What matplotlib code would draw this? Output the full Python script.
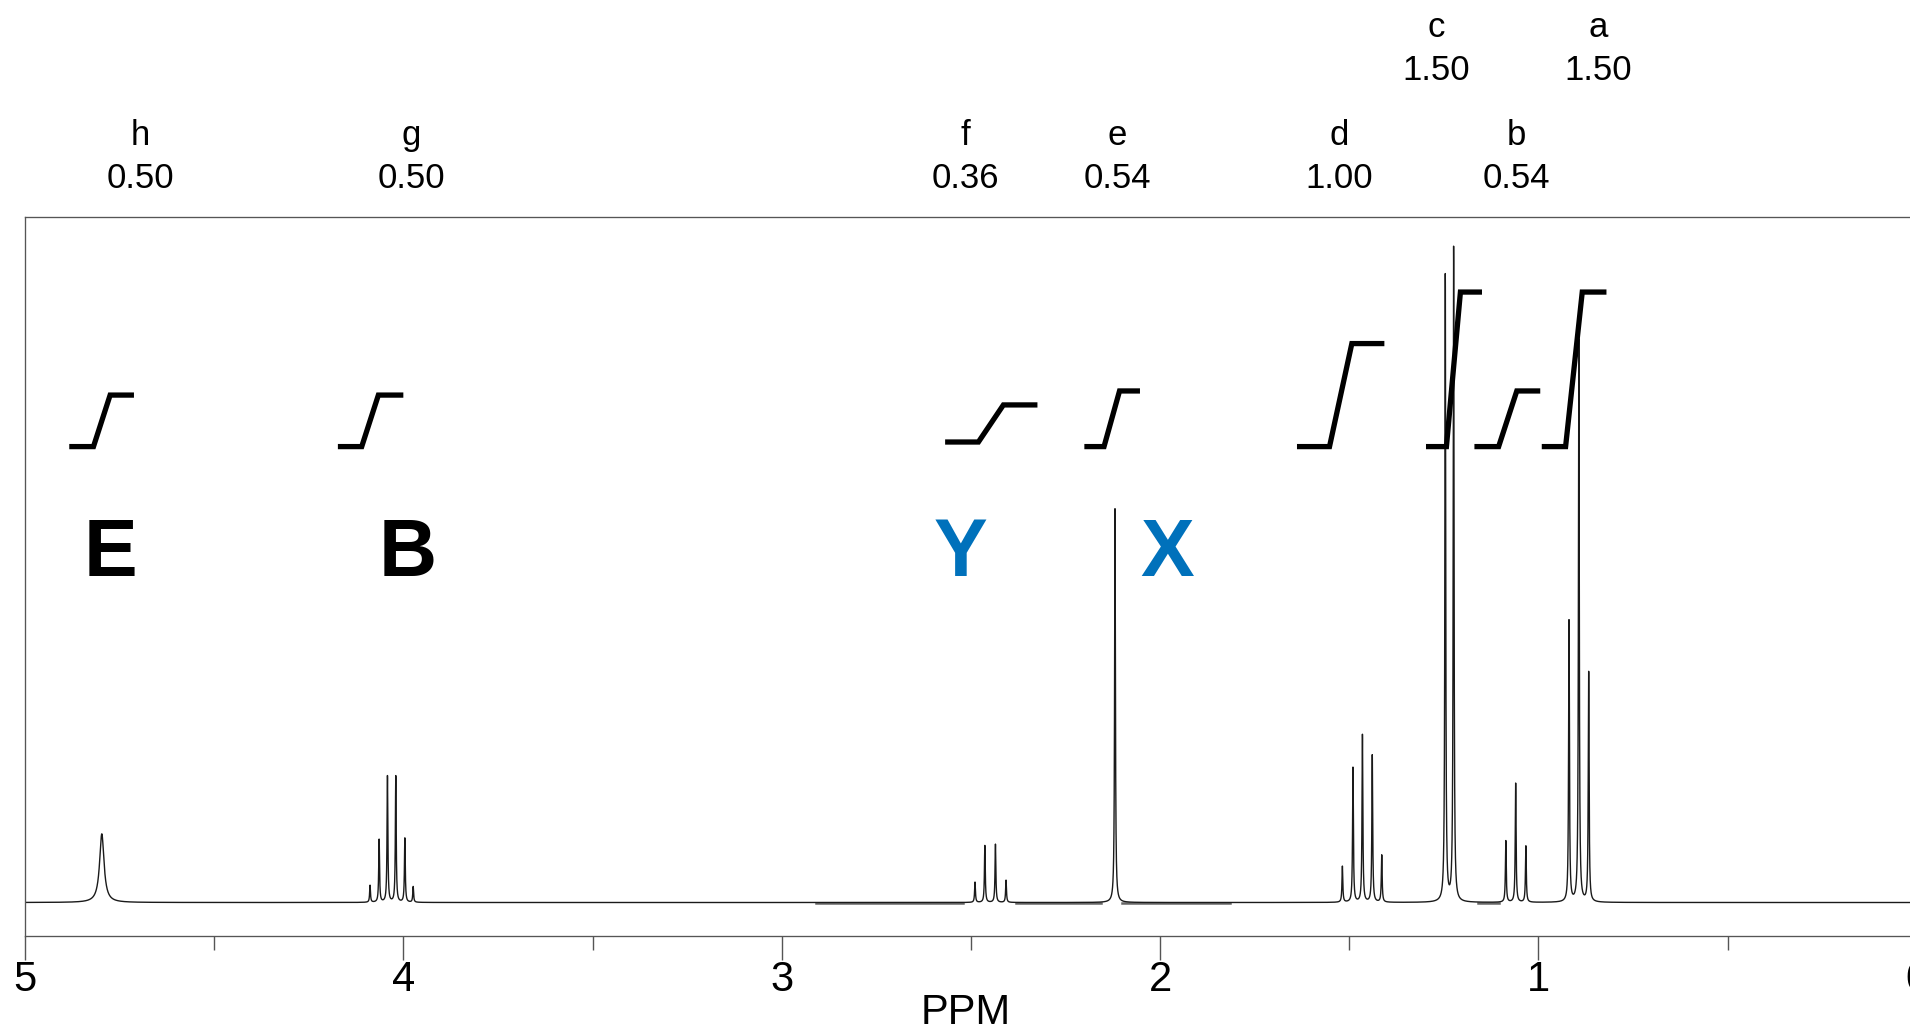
import numpy as np
import matplotlib
matplotlib.use('Agg')
import matplotlib.pyplot as plt
from matplotlib import transforms
from matplotlib.ticker import MultipleLocator

plt.rcParams['font.family'] = ['Liberation Sans', 'DejaVu Sans']

# proton groups, their integrals and where the labels sit (ppm)
groups = ['h', 'g', 'f', 'e', 'd', 'c', 'b', 'a']
integrals = [0.50, 0.50, 0.36, 0.54, 1.00, 1.50, 0.54, 1.50]
label_ppm = [4.695, 3.978, 2.514, 2.113, 1.527, 1.269, 1.057, 0.842]
label_raised = [False, False, False, False, False, True, False, True]

# integral traces: start, rise start, rise end, end (ppm) and base level
integral_ranges = [
    (4.883, 4.819, 4.775, 4.712),
    (4.173, 4.110, 4.066, 4.000),
    (2.568, 2.480, 2.414, 2.324),
    (2.200, 2.148, 2.107, 2.053),
    (1.638, 1.552, 1.493, 1.407),
    (1.297, 1.243, 1.206, 1.149),
    (1.169, 1.105, 1.057, 0.995),
    (0.991, 0.928, 0.884, 0.820),
]
integral_base = [0.697, 0.697, 0.704, 0.697, 0.697, 0.697, 0.697, 0.697]
integral_scale = 0.1575

# spectrum lines (ppm, height)
h_ppm, h_int = [4.797], [0.105]
g_ppm = [4.088, 4.064, 4.042, 4.020, 3.996, 3.974]
g_int = [0.026, 0.096, 0.193, 0.193, 0.098, 0.024]
f_ppm = [2.489, 2.463, 2.435, 2.407]
f_int = [0.031, 0.087, 0.089, 0.034]
e_ppm, e_int = [2.119], [0.602]
d_ppm = [1.518, 1.490, 1.465, 1.439, 1.414]
d_int = [0.055, 0.206, 0.256, 0.225, 0.072]
c_ppm = [1.246, 1.224]
c_int = [0.958, 1.000]
b_ppm = [1.086, 1.060, 1.033]
b_int = [0.094, 0.182, 0.086]
a_ppm = [0.919, 0.893, 0.867]
a_int = [0.430, 0.860, 0.351]

# darker baseline pieces (ppm ranges)
baseline_pieces = [(2.91, 2.52), (2.38, 2.155), (2.10, 1.815), (1.16, 1.105)]

# compound markers
marks = ['E', 'B', 'Y', 'X']
mark_ppm = [4.775, 3.988, 2.528, 1.982]
mark_color = ['black', 'black', '#0071BB', '#0071BB']


def lorentz(x, x0, h, w):
    return h * w ** 2 / ((x - x0) ** 2 + w ** 2)


ppm = np.linspace(5.0, 0.0, 50001)
spec = np.zeros_like(ppm)
for x0, h in zip(h_ppm, h_int):
    spec += lorentz(ppm, x0, h, 0.007)
for pos, hts in [(g_ppm, g_int), (f_ppm, f_int), (e_ppm, e_int), (d_ppm, d_int),
                 (c_ppm, c_int), (b_ppm, b_int), (a_ppm, a_int)]:
    for x0, h in zip(pos, hts):
        spec += lorentz(ppm, x0, h, 0.0013)

fig = plt.figure(figsize=(19.1, 10.29), dpi=100)
ax = fig.add_axes([25 / 1910, 93 / 1029, 1891.7 / 1910, 719 / 1029])

for a0, a1 in baseline_pieces:
    ax.plot([a0, a1], [-0.001, -0.001], color='#666666', lw=1.8, zorder=1)
ax.plot(ppm, spec, color='#1a1a1a', lw=1.0, zorder=2)

# integral steps
for (x0, x1, x2, x3), base, val in zip(integral_ranges, integral_base, integrals):
    top = base + val * integral_scale
    ax.plot([x0, x1, x2, x3], [base, base, top, top], color='black', lw=3.8,
            solid_joinstyle='miter', solid_capstyle='butt', zorder=3)

for m, x, c in zip(marks, mark_ppm, mark_color):
    ax.text(x, 0.531, m, color=c, fontsize=58, fontweight='bold',
            ha='center', va='center')

# group labels above the frame
trans = transforms.blended_transform_factory(ax.transData, fig.transFigure)
for g, v, x, up in zip(groups, integrals, label_ppm, label_raised):
    y_num = 1 - (80 if up else 188.3) / 1029
    y_let = 1 - (36.7 if up else 145) / 1029
    ax.text(x, y_let, g, transform=trans, ha='center', va='baseline', fontsize=25)
    ax.text(x, y_num, f'{v:.2f}', transform=trans, ha='center', va='baseline',
            fontsize=25)

ax.set_xlim(5, 0)
ax.set_ylim(-0.0512, 1.048)
ax.set_yticks([])
ax.set_xticks([5, 4, 3, 2, 1, 0])
ax.set_xticklabels(['5', '4', '3', '2', '1', '0'])
ax.xaxis.set_minor_locator(MultipleLocator(0.5))
ax.tick_params(axis='x', which='major', length=17.3, width=1.0, color='#555555',
               pad=0, labelsize=30)
ax.tick_params(axis='x', which='minor', length=10, width=1.0, color='#555555')
for s in ax.spines.values():
    s.set_color('#555555')
    s.set_linewidth(0.95)

fig.text(966 / 1910, 1 - 1024 / 1029, 'PPM', ha='center', va='baseline', fontsize=30)

fig.savefig('out.png', dpi=100)
